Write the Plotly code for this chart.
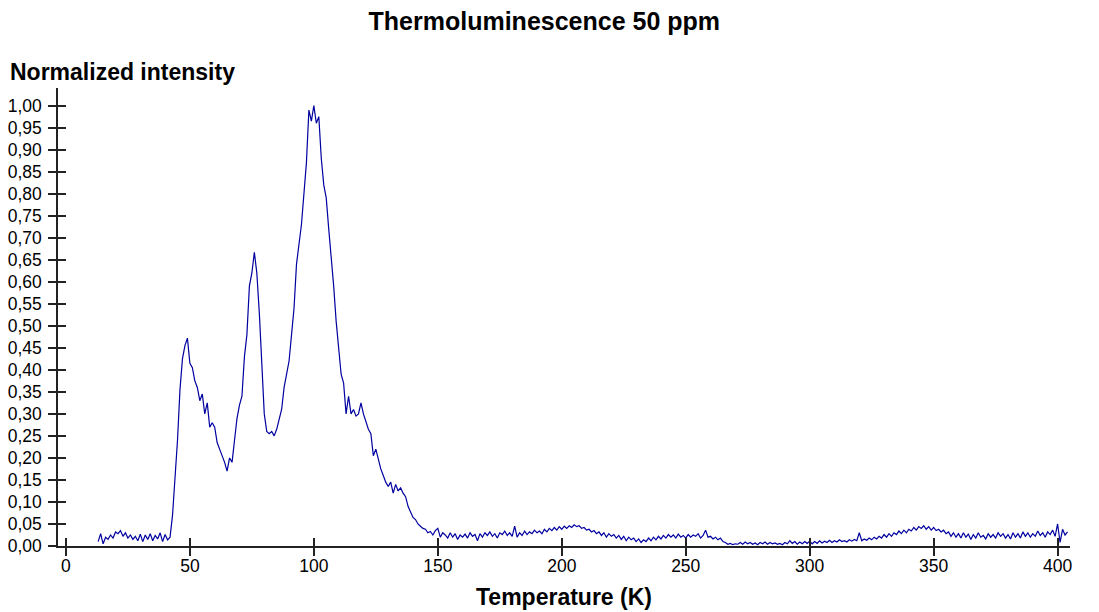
import plotly.graph_objs as go

temperature = list(range(13, 405))

intensity = [
    # 13 - 42 K
    0.010, 0.028, 0.005, 0.020, 0.015, 0.025, 0.018, 0.032, 0.028, 0.035,
    0.022, 0.030, 0.018, 0.025, 0.015, 0.022, 0.012, 0.027, 0.010, 0.025,
    0.015, 0.028, 0.012, 0.024, 0.016, 0.030, 0.010, 0.026, 0.014, 0.020,
    # 43 - 72 K
    0.070, 0.150, 0.240, 0.355, 0.425, 0.455, 0.472, 0.415, 0.405, 0.375,
    0.360, 0.330, 0.345, 0.300, 0.325, 0.270, 0.280, 0.270, 0.235, 0.220,
    0.205, 0.190, 0.170, 0.200, 0.190, 0.235, 0.290, 0.320, 0.340, 0.430,
    # 73 - 102 K
    0.480, 0.590, 0.620, 0.667, 0.620, 0.530, 0.400, 0.300, 0.260, 0.255,
    0.260, 0.250, 0.265, 0.290, 0.310, 0.360, 0.395, 0.420, 0.480, 0.540,
    0.640, 0.680, 0.730, 0.800, 0.870, 0.990, 0.965, 1.000, 0.960, 0.975,
    # 103 - 132 K
    0.880, 0.820, 0.790, 0.720, 0.660, 0.590, 0.510, 0.455, 0.390, 0.370,
    0.300, 0.340, 0.300, 0.310, 0.295, 0.300, 0.325, 0.300, 0.280, 0.265,
    0.255, 0.205, 0.220, 0.195, 0.175, 0.160, 0.145, 0.135, 0.145, 0.120,
    # 133 - 162 K
    0.140, 0.125, 0.132, 0.120, 0.112, 0.090, 0.078, 0.065, 0.060, 0.050,
    0.045, 0.040, 0.038, 0.030, 0.033, 0.025, 0.035, 0.040, 0.020, 0.030,
    0.025, 0.018, 0.030, 0.020, 0.028, 0.015, 0.025, 0.020, 0.027, 0.018,
    # 163 - 192 K
    0.030, 0.022, 0.026, 0.012, 0.028, 0.020, 0.030, 0.024, 0.032, 0.022,
    0.028, 0.018, 0.030, 0.026, 0.034, 0.024, 0.030, 0.022, 0.045, 0.020,
    0.030, 0.024, 0.034, 0.026, 0.032, 0.028, 0.036, 0.030, 0.034, 0.028,
    # 193 - 222 K
    0.038, 0.032, 0.040, 0.035, 0.042, 0.036, 0.044, 0.038, 0.045, 0.040,
    0.046, 0.042, 0.048, 0.044, 0.046, 0.040, 0.042, 0.036, 0.038, 0.032,
    0.035, 0.028, 0.032, 0.024, 0.030, 0.020, 0.028, 0.022, 0.026, 0.018,
    # 223 - 252 K
    0.024, 0.015, 0.022, 0.012, 0.020, 0.014, 0.018, 0.010, 0.016, 0.008,
    0.014, 0.010, 0.018, 0.012, 0.020, 0.014, 0.022, 0.016, 0.024, 0.018,
    0.026, 0.020, 0.025, 0.018, 0.027, 0.020, 0.024, 0.018, 0.026, 0.020,
    # 253 - 282 K
    0.025, 0.022, 0.028, 0.018, 0.024, 0.036, 0.020, 0.022, 0.016, 0.020,
    0.014, 0.018, 0.010, 0.008, 0.004, 0.006, 0.003, 0.005, 0.004, 0.008,
    0.004, 0.009, 0.005, 0.008, 0.004, 0.007, 0.003, 0.008, 0.005, 0.009,
    # 283 - 312 K
    0.004, 0.008, 0.005, 0.007, 0.004, 0.006, 0.003, 0.008, 0.005, 0.012,
    0.006, 0.010, 0.004, 0.009, 0.005, 0.010, 0.006, 0.011, 0.005, 0.010,
    0.006, 0.012, 0.007, 0.011, 0.008, 0.013, 0.008, 0.012, 0.009, 0.014,
    # 313 - 342 K
    0.010, 0.012, 0.009, 0.014, 0.011, 0.015, 0.012, 0.030, 0.012, 0.016,
    0.013, 0.018, 0.014, 0.020, 0.016, 0.022, 0.018, 0.026, 0.020, 0.028,
    0.022, 0.030, 0.026, 0.034, 0.028, 0.036, 0.030, 0.038, 0.034, 0.042,
    # 343 - 372 K
    0.036, 0.044, 0.040, 0.046, 0.038, 0.044, 0.036, 0.042, 0.035, 0.038,
    0.032, 0.036, 0.028, 0.032, 0.022, 0.030, 0.020, 0.028, 0.018, 0.030,
    0.020, 0.027, 0.015, 0.026, 0.018, 0.030, 0.020, 0.024, 0.016, 0.028,
    # 373 - 404 K
    0.020, 0.026, 0.018, 0.030, 0.022, 0.028, 0.018, 0.026, 0.016, 0.030,
    0.020, 0.028, 0.018, 0.032, 0.022, 0.030, 0.020, 0.028, 0.022, 0.034,
    0.024, 0.030, 0.020, 0.032, 0.026, 0.036, 0.022, 0.050, 0.008, 0.038,
    0.025, 0.032,
]

x_ticks = [0, 50, 100, 150, 200, 250, 300, 350, 400]

font = 'Liberation Sans, Arial, sans-serif'

fig = go.Figure()

# Messkurve
fig.add_trace(go.Scatter(x=temperature, y=intensity, mode='lines',
                         line=dict(color='#0000a0', width=1.2),
                         showlegend=False, hoverinfo='skip'))

# Leere Spur für die Zusatzachsen (Ticks nach innen -> Kreuz-Ticks)
fig.add_trace(go.Scatter(x=[], y=[], xaxis='x2', yaxis='y2',
                         showlegend=False, hoverinfo='skip'))

x_range = [-3.2, 405]
y_range = [0, 1.04]

# Seite hat 8px Body-Rand -> Ränder entsprechend kleiner
fig.update_layout(
    width=1099, height=612,
    margin=dict(l=50, r=37, t=80, b=74, autoexpand=False),
    plot_bgcolor='white', paper_bgcolor='white',
    separators=',.',
    font=dict(family=font, color='black', size=17.5),
    title=dict(text='<b>Thermoluminescence 50 ppm</b>', x=0.488, xanchor='center',
               y=0.979, yanchor='middle', font=dict(size=25)),
    xaxis=dict(range=x_range, tickvals=x_ticks, ticks='outside', ticklen=8,
               tickwidth=1.5, tickcolor='#222', showline=True, linecolor='#222',
               linewidth=1.5, showgrid=False, zeroline=False, automargin=False,
               ticklabelstandoff=-5,
               title=dict(text='<b>Temperature (K)</b>', font=dict(size=23), standoff=14)),
    yaxis=dict(range=y_range, dtick=0.05, tick0=0, tickformat='.2f', ticks='outside',
               ticklen=8, tickwidth=1.5, tickcolor='#222', showline=True,
               linecolor='#222', linewidth=1.5, showgrid=False, zeroline=False,
               automargin=False, ticklabelstandoff=3),
    xaxis2=dict(range=x_range, tickvals=x_ticks, ticks='inside', ticklen=8,
                tickwidth=1.5, tickcolor='#222', showticklabels=False,
                showline=False, showgrid=False, zeroline=False,
                overlaying='x', anchor='y', automargin=False),
    yaxis2=dict(range=y_range, dtick=0.05, tick0=0, ticks='inside', ticklen=8,
                tickwidth=1.5, tickcolor='#222', showticklabels=False,
                showline=False, showgrid=False, zeroline=False,
                overlaying='y', anchor='x', side='left', automargin=False),
)

# Y-Achsentitel waagerecht oben links
fig.add_annotation(text='<b>Normalized intensity</b>', xref='paper', yref='paper',
                   x=-0.0494, y=1.035, xanchor='left', yanchor='middle',
                   showarrow=False, font=dict(size=23))

fig.write_html("out.html")
